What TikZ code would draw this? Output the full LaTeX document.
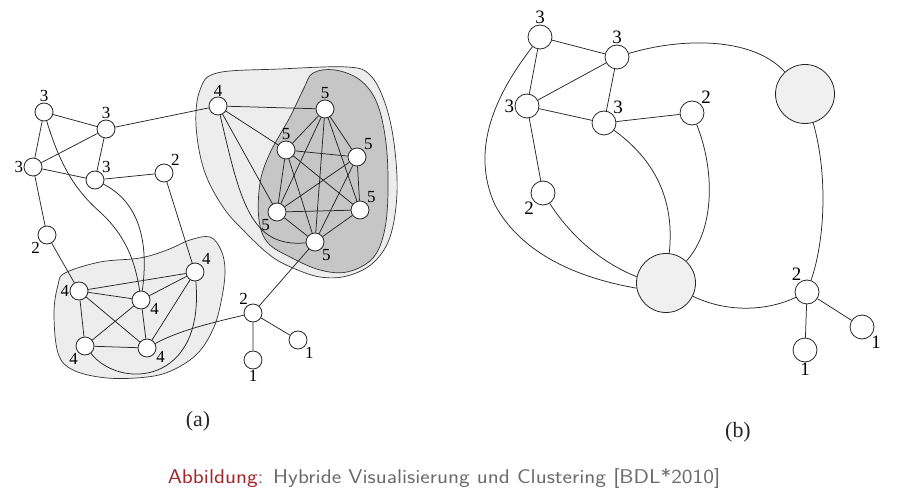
\documentclass[tikz,border=0pt]{standalone}
\usepackage{fontspec}
\setmainfont{Liberation Serif}
\usepackage{tikz}

\definecolor{hullgray}{HTML}{EDEDED}
\definecolor{coregray}{HTML}{C6C6C6}
\definecolor{metagray}{HTML}{F0F0F0}
\definecolor{capred}{HTML}{A3262A}
\definecolor{capgray}{HTML}{6B6B6B}

\pgfdeclarelayer{hulls}
\pgfdeclarelayer{edges}
\pgfsetlayers{hulls,edges,main}

\tikzset{
  vtx/.style={circle, draw=black!85, fill=white, line width=0.8bp, minimum size=18bp, inner sep=0pt},
  bvtx/.style={vtx, minimum size=24bp},
  meta/.style={circle, draw=black!85, fill=metagray, line width=0.8bp, minimum size=59bp, inner sep=0pt},
  lbl/.style={font=\fontsize{17}{17}\selectfont, inner sep=0.3bp},
  blbl/.style={font=\fontsize{19}{19}\selectfont, inner sep=0.3bp},
  edge/.style={draw=black!85, line width=0.75bp},
  hull/.style={draw=black!80, line width=0.7bp},
  sublbl/.style={font=\fontsize{22}{22}\selectfont, text=black!85},
}

\begin{document}
\begin{tikzpicture}[x=1bp, y=-1bp]
  \useasboundingbox (0,0) rectangle (897,499);

  % ---------- (a) hybrid drawing ----------
  \node[vtx, label={[lbl]above:3}] (a3tl) at (44,112) {};
  \node[vtx, label={[lbl]above:3}] (a3t) at (106,129) {};
  \node[vtx, label={[lbl]left:3}] (a3l) at (33,167) {};
  \node[vtx, label={[lbl]45:3}] (a3m) at (95,180) {};
  \node[vtx, label={[lbl]45:2}] (a2r) at (164,173) {};
  \node[vtx, label={[lbl]225:2}] (a2l) at (47,235) {};

  \node[vtx, label={[lbl]left:4}] (a4a) at (79,291) {};
  \node[vtx, label={[lbl]-20:4}] (a4b) at (141,300) {};
  \node[vtx, label={[lbl]45:4}] (a4c) at (195,272) {};
  \node[vtx, label={[lbl]225:4}] (a4d) at (85,346) {};
  \node[vtx, label={[lbl]-20:4}] (a4e) at (147,348) {};

  \node[vtx, label={[lbl]above:4}] (a4u) at (218,106) {};
  \node[vtx, label={[lbl]above:5}] (a5t) at (325,109) {};
  \node[vtx, label={[lbl]above:5}] (a5lu) at (286,150) {};
  \node[vtx, label={[lbl]45:5}] (a5r) at (357,157) {};
  \node[vtx, label={[lbl]225:5}] (a5ll) at (277,212) {};
  \node[vtx, label={[lbl]45:5}] (a5lr) at (360,210) {};
  \node[vtx, label={[lbl]-45:5}] (a5b) at (315,242) {};

  \node[vtx, label={[lbl]120:2}] (a2h) at (253,313) {};
  \node[vtx, label={[lbl]below:1}] (a1a) at (253,360) {};
  \node[vtx, label={[lbl]-45:1}] (a1b) at (298,340) {};

  % cluster hulls
  \begin{pgfonlayer}{hulls}
    \filldraw[hull, fill=hullgray] plot[smooth cycle, tension=0.6] coordinates
      {(65,273) (100,262) (140,258) (167,250) (190,240) (210,237) (221,250) (225,270) (222,297) (214,327)
       (198,353) (173,370) (147,377) (107,378) (73,370) (58,353) (54,313) (58,285)};
    \filldraw[hull, fill=hullgray] plot[smooth cycle, tension=0.6] coordinates
      {(217,73) (280,69) (347,67) (370,75) (385,103) (394,143) (397,193) (390,237) (373,263) (347,276)
       (320,277) (293,268) (271,256) (246,233) (223,207) (204,170) (196,125) (200,90)};
    \filldraw[hull, fill=coregray] plot[smooth cycle, tension=0.6] coordinates
      {(313,73) (335,70) (360,80) (377,103) (386,143) (388,193) (384,233) (372,259) (347,272) (320,270)
       (292,258) (268,243) (259,220) (260,183) (270,153) (290,117) (304,88)};
  \end{pgfonlayer}

  \begin{pgfonlayer}{edges}
    \draw[edge] (a3tl) -- (a3t) (a3tl) -- (a3l) (a3t) -- (a3l) (a3t) -- (a3m) (a3l) -- (a3m);
    \draw[edge] (a3m) -- (a2r) (a3l) -- (a2l) (a2l) -- (a4a) (a3t) -- (a4u) (a2r) -- (a4c);
    \foreach \u/\v in {a4a/a4b, a4a/a4c, a4a/a4d, a4a/a4e, a4b/a4c, a4b/a4d, a4b/a4e, a4c/a4e, a4d/a4e}
      \draw[edge] (\u) -- (\v);
    \foreach \u/\v in {a4u/a5t, a4u/a5lu, a4u/a5ll}
      \draw[edge] (\u) -- (\v);
    % the 5-clique
    \foreach \u [count=\i] in {a5t, a5lu, a5r, a5ll, a5lr, a5b}
      \foreach \v [count=\j] in {a5t, a5lu, a5r, a5ll, a5lr, a5b}
        {\ifnum\i<\j \draw[edge] (\u) -- (\v); \fi}
    \draw[edge] (a2h) -- (a5b) (a2h) -- (a1a) (a2h) -- (a1b);
    % curved edges
    \draw[edge] (a3tl) .. controls (60,165) and (75,190) .. (100,212) .. controls (125,235) and (135,260) .. (a4b);
    \draw[edge] (a3m) .. controls (135,200) and (150,235) .. (a4b);
    \draw[edge] (a4d) .. controls (120,390) and (205,385) .. (a4c);
    \draw[edge] (a4e) .. controls (180,330) and (215,322) .. (a2h);
    \draw[edge] (a4u) .. controls (240,200) and (250,248) .. (a5b);
  \end{pgfonlayer}

  \node[sublbl] (capa) at (198,421) {(a)};

  % ---------- (b) clustered drawing ----------
  \node[bvtx, label={[blbl]above:3}] (b3tl) at (540,37) {};
  \node[bvtx, label={[blbl]above:3}] (b3t) at (617,57) {};
  \node[bvtx, label={[blbl]left:3}] (b3l) at (527,106) {};
  \node[bvtx, label={[blbl]45:3}] (b3m) at (604,123) {};
  \node[bvtx, label={[blbl]45:2}] (b2r) at (692,113) {};
  \node[bvtx, label={[blbl]225:2}] (b2l) at (543,193) {};
  \node[meta] (bm1) at (805,94) {};
  \node[meta] (bm2) at (666,283) {};
  \node[bvtx, label={[blbl]115:2}] (b2h) at (807,292) {};
  \node[bvtx, label={[blbl]below:1}] (b1a) at (805,350) {};
  \node[bvtx, label={[blbl]-45:1}] (b1b) at (862,327) {};

  \begin{pgfonlayer}{edges}
    \draw[edge] (b3tl) -- (b3t) (b3tl) -- (b3l) (b3l) -- (b3t) (b3t) -- (b3m) (b3l) -- (b3m);
    \draw[edge] (b3m) -- (b2r) (b3l) -- (b2l) (b2h) -- (b1a) (b2h) -- (b1b);
    \draw[edge] (b3t) .. controls (680,38) and (752,36) .. (bm1);
    \draw[edge] (bm1) .. controls (828,175) and (825,240) .. (b2h);
    \draw[edge] (b3m) .. controls (655,160) and (675,200) .. (bm2);
    \draw[edge] (b2r) .. controls (715,170) and (715,230) .. (bm2);
    \draw[edge] (b2l) .. controls (570,235) and (600,262) .. (bm2.168);
    \draw[edge] (b3tl) .. controls (495,95) and (470,150) .. (495,205) .. controls (525,260) and (590,280) .. (bm2.190);
    \draw[edge] (bm2) .. controls (725,312) and (765,312) .. (b2h);
  \end{pgfonlayer}

  \node[sublbl] (capb) at (738,432) {(b)};

  % caption
  \node[font=\sffamily\fontsize{20}{20}\selectfont, text=capgray, xscale=1.14, transform shape] (cap) at (444,479)
    {\textcolor{capred}{Abbildung}: Hybride Visualisierung und Clustering [BDL*2010]};
\end{tikzpicture}
\end{document}
